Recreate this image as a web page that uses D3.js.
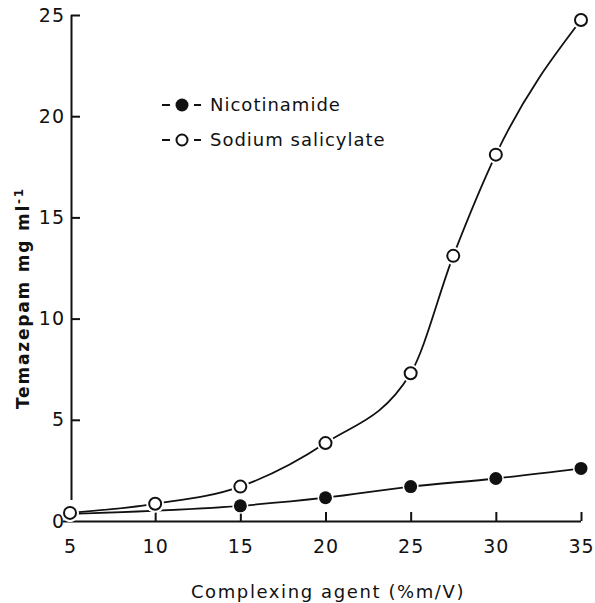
<!DOCTYPE html>
<html lang="en">
<head>
    <meta charset="UTF-8">
    <title>Temazepam solubility</title>
    <script src="https://d3js.org/d3.v7.min.js"></script>
    <style>
        body { margin: 0; background: #fff; }
        text { font-family: "DejaVu Sans", sans-serif; fill: #111; }
    </style>
</head>
<body>
    <script>
        // data
        const salicylateX = [5, 10, 15, 20, 25, 27.5, 30, 35];
        const salicylateY = [0.4, 0.85, 1.7, 3.85, 7.3, 13.1, 18.1, 24.75];
        const nicotinX = [5, 15, 20, 25, 30, 35];
        const nicotinY = [0.35, 0.75, 1.15, 1.7, 2.1, 2.6];
        const xTicks = [5, 10, 15, 20, 25, 30, 35];
        const yTicks = [0, 5, 10, 15, 20, 25];

        const w = 595;
        const h = 603;

        const xScale = d3.scaleLinear().domain([5, 35]).range([70, 581]);
        const yScale = d3.scaleLinear().domain([0, 25]).range([521, 15]);

        const svg = d3.select("body")
                      .append("svg")
                      .attr("width", w)
                      .attr("height", h);

        // x axis: ticks pointing up
        const xAxis = d3.axisBottom(xScale)
                        .tickValues(xTicks)
                        .tickSizeInner(-9)
                        .tickSizeOuter(0)
                        .tickPadding(19);
        const gx = svg.append("g")
           .attr("transform", "translate(0,521)")
           .call(xAxis);
        gx.select(".domain").attr("d", "M63,0.5H581");

        // y axis: ticks pointing right
        const yAxis = d3.axisLeft(yScale)
                        .tickValues(yTicks)
                        .tickSizeInner(-9)
                        .tickSizeOuter(0)
                        .tickPadding(6);
        const gy = svg.append("g")
           .attr("transform", "translate(71,0)")
           .call(yAxis);
        gy.select(".domain").attr("d", "M0.5," + yScale(25) + "V500");
        gy.selectAll(".tick").filter(d => d === 0).select("line").remove();

        svg.selectAll(".domain, .tick line").attr("stroke", "#111").attr("stroke-width", 2);
        svg.selectAll(".tick text")
           .style("font-size", "19px")
           .style("letter-spacing", "1px")
           .attr("fill", "#111");

        const salData = salicylateX.map((x, i) => [x, salicylateY[i]]);
        const nicData = nicotinX.map((x, i) => [x, nicotinY[i]]);

        const line = d3.line()
                       .x(d => xScale(d[0]))
                       .y(d => yScale(d[1]))
                       .curve(d3.curveMonotoneX);

        [salData, nicData].forEach(data => {
            svg.append("path")
               .datum(data)
               .attr("d", line)
               .attr("fill", "none")
               .attr("stroke", "#111")
               .attr("stroke-width", 1.8);
        });

        // filled markers
        svg.selectAll(".nic")
           .data(nicData)
           .enter()
           .append("circle")
           .attr("cx", d => xScale(d[0]))
           .attr("cy", d => yScale(d[1]))
           .attr("r", 6.5)
           .attr("fill", "#111")
           .attr("stroke", "#fff")
           .attr("stroke-width", 3)
           .attr("paint-order", "stroke");

        // open markers with white halo so the line stops short
        svg.selectAll(".sal-halo")
           .data(salData)
           .enter()
           .append("circle")
           .attr("cx", d => xScale(d[0]))
           .attr("cy", d => yScale(d[1]))
           .attr("r", 9)
           .attr("fill", "#fff");
        svg.selectAll(".sal")
           .data(salData)
           .enter()
           .append("circle")
           .attr("cx", d => xScale(d[0]))
           .attr("cy", d => yScale(d[1]))
           .attr("r", 6)
           .attr("fill", "#fff")
           .attr("stroke", "#111")
           .attr("stroke-width", 2);

        // legend
        const legend = [
            { label: "Nicotinamide", filled: true, y: 105 },
            { label: "Sodium salicylate", filled: false, y: 140 }
        ];
        const lg = svg.selectAll(".legend")
                      .data(legend)
                      .enter()
                      .append("g")
                      .attr("transform", d => "translate(0," + d.y + ")");
        lg.append("line").attr("x1", 162).attr("x2", 170).attr("stroke", "#111").attr("stroke-width", 2);
        lg.append("line").attr("x1", 194).attr("x2", 201).attr("stroke", "#111").attr("stroke-width", 2);
        lg.append("circle")
          .attr("cx", 182)
          .attr("r", d => d.filled ? 6.5 : 5.5)
          .attr("fill", d => d.filled ? "#111" : "#fff")
          .attr("stroke", "#111")
          .attr("stroke-width", d => d.filled ? 0 : 2);
        lg.append("text")
          .attr("x", 210)
          .attr("dy", "0.35em")
          .style("font-size", "18px")
          .style("letter-spacing", "1px")
          .text(d => d.label);

        // axis titles
        svg.append("text")
           .attr("x", 328)
           .attr("y", 598)
           .attr("text-anchor", "middle")
           .style("font-size", "18px")
           .style("letter-spacing", "1.6px")
           .text("Complexing agent (%m/V)");

        const yt = svg.append("text")
           .attr("transform", "translate(29,298) rotate(-90)")
           .attr("text-anchor", "middle")
           .style("font-size", "17px")
           .style("font-weight", "bold")
           .style("letter-spacing", "1.8px");
        yt.append("tspan").text("Temazepam  mg  ml");
        yt.append("tspan").attr("dy", "-0.5em").style("font-size", "12px").text("-1");
    </script>
</body>
</html>
